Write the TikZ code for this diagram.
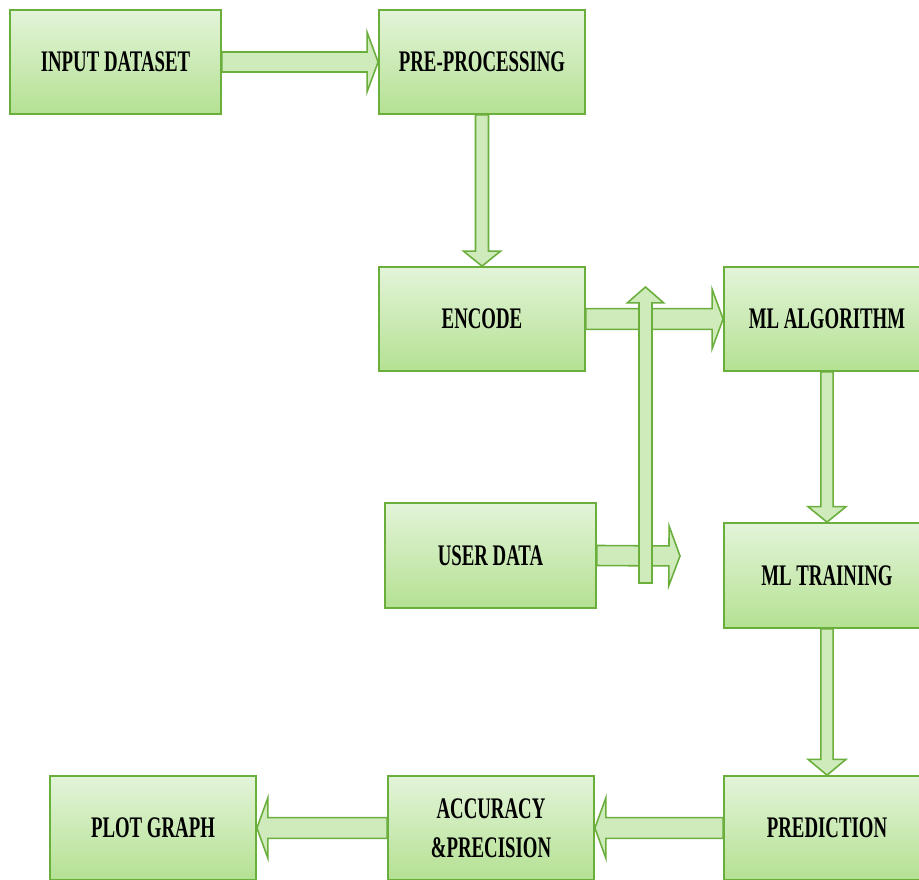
\documentclass[tikz,border=0pt]{standalone}
\usepackage{fontspec}
\setmainfont{Liberation Serif}[FakeStretch=0.63]
\usetikzlibrary{calc}

\definecolor{boxtop}{HTML}{E3F4D9}
\definecolor{boxbot}{HTML}{B4E192}
\definecolor{edge}{HTML}{6AAE3C}
\definecolor{shaft}{HTML}{CFEBBB}

\tikzset{
  block/.style={draw=edge, line width=1pt, top color=boxtop, bottom color=boxbot,
    minimum width=4.12cm, minimum height=2.08cm, align=center,
    font=\fontsize{17}{22}\selectfont\bfseries},
  flow/.style={draw=edge, line width=0.9pt, fill=shaft, line join=miter}
}

% block arrow: shaft half width, head half width, head length, from, to
\newcommand{\flowarrow}[5]{%
  \filldraw[flow] let \p1=(#4), \p2=(#5),
      \n1={atan2(\y2-\y1,\x2-\x1)}, \n2={veclen(\x2-\x1,\y2-\y1)} in
    [shift={(\p1)}, rotate=\n1]
    (0pt,#1) -- ({\n2*1pt-#3},#1) -- ({\n2*1pt-#3},#2) -- ({\n2*1pt},0pt)
    -- ({\n2*1pt-#3},-#2) -- ({\n2*1pt-#3},-#1) -- (0pt,-#1) -- cycle;
}

\begin{document}
\begin{tikzpicture}[x=0.2mm, y=-0.2mm]
  \useasboundingbox (0,0) rectangle (919,880);

  \node[block, minimum width=4.22cm] (in) at (115.5,62) {INPUT DATASET};
  \node[block] (pre) at (482,62) {PRE-PROCESSING};
  \node[block] (enc) at (482,319) {ENCODE};
  \node[block] (alg) at (827,319) {ML ALGORITHM};
  \node[block, minimum width=4.22cm, minimum height=2.1cm] (user) at (490.5,555.5) {USER DATA};
  \node[block, minimum height=2.1cm] (train) at (827,575.5) {ML TRAINING};
  \node[block] (pred) at (827,828) {PREDICTION};
  \node[block] (acc) at (491,828) {ACCURACY\\\&PRECISION};
  \node[block] (plot) at (153,828) {PLOT GRAPH};

  \coordinate (ue) at (680,556);
  \coordinate (ub) at (645.5,583);
  \coordinate (ut) at (645.5,287);

  \flowarrow{5.7pt}{17pt}{6.3pt}{in.east}{pre.west}
  \flowarrow{3.7pt}{10.5pt}{8.5pt}{pre.south}{enc.north}
  \flowarrow{5.9pt}{17pt}{6.3pt}{enc.east}{alg.west}
  \flowarrow{5.7pt}{17pt}{6.3pt}{user.east}{ue}
  \flowarrow{3.7pt}{10.3pt}{9pt}{ub}{ut}
  \flowarrow{3.5pt}{10.8pt}{8.8pt}{alg.south}{train.north}
  \flowarrow{3.5pt}{10.8pt}{9pt}{train.south}{pred.north}
  \flowarrow{5.9pt}{17.3pt}{6.3pt}{pred.west}{acc.east}
  \flowarrow{5.9pt}{17.3pt}{6.3pt}{acc.west}{plot.east}
\end{tikzpicture}
\end{document}
